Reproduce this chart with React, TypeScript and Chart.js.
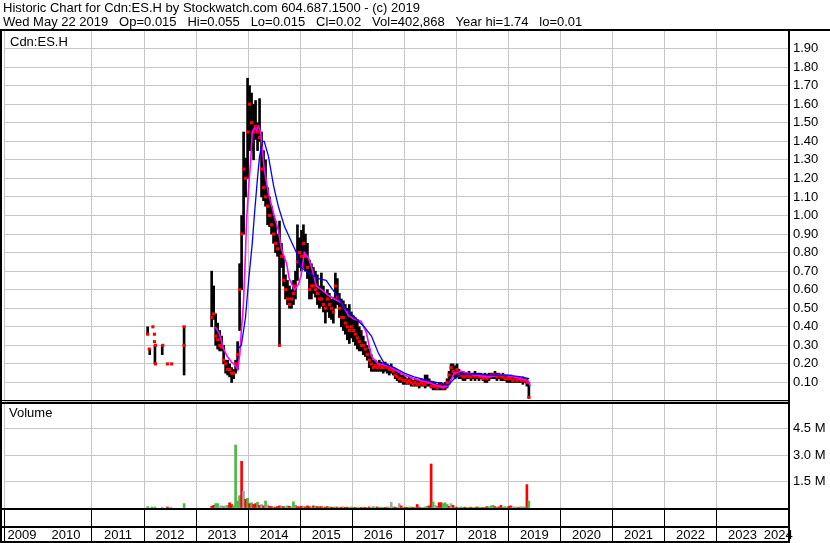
import React, { useEffect, useRef } from 'react';
import { Chart, registerables } from 'chart.js';

Chart.register(...registerables);

// ---------- text ----------
const TITLE_1 = 'Historic Chart for Cdn:ES.H by Stockwatch.com 604.687.1500 - (c) 2019';
const TITLE_2 = 'Wed May 22 2019   Op=0.015   Hi=0.055   Lo=0.015   Cl=0.02   Vol=402,868   Year hi=1.74   lo=0.01';
const SYMBOL = 'Cdn:ES.H';
const VOLUME_LABEL = 'Volume';
const yearLabels = ['2009', '2010', '2011', '2012', '2013', '2014', '2015', '2016', '2017', '2018', '2019', '2020', '2021', '2022', '2023', '2024'];

// ---------- early sporadic trades (2012) ----------
const earlyBarDates = [2012.07, 2012.11, 2012.21, 2012.35, 2012.77];
const earlyBarHigh = [0.40, 0.28, 0.30, 0.30, 0.40];
const earlyBarLow = [0.36, 0.25, 0.20, 0.25, 0.14];
const earlyMarkDates = [2012.07, 2012.17, 2012.20, 2012.20, 2012.10, 2012.22, 2012.22, 2012.36, 2012.45, 2012.53, 2012.77, 2012.77];
const earlyMarkValues = [0.36, 0.40, 0.36, 0.32, 0.28, 0.30, 0.20, 0.30, 0.20, 0.20, 0.40, 0.30];
const earlyVolDates = [2012.07, 2012.15, 2012.21, 2012.35, 2012.45, 2012.52, 2012.77];
const earlyVol = [0.08, 0.06, 0.06, 0.05, 0.06, 0.05, 0.25];
const earlyVolDir = ['u', 'u', 'u', 'n', 'd', 'n', 'u'];

// ---------- biweekly bars from May 2013 to May 2019 ----------
const BAR_START = 2013.30; // first biweekly period (decimal year)
const BAR_STEP_DAYS = 14;
const barHigh = [
  0.70, 0.62, 0.47, 0.42, 0.38, 0.35, 0.30, 0.22, 0.22, 0.20,
  0.18, 0.17, 0.22, 0.32, 0.74, 1.00, 1.45, 1.31, 1.74, 1.70,
  1.66, 1.60, 1.62, 1.50, 1.63, 1.45, 1.35, 1.30, 1.15, 1.10,
  1.05, 1.00, 0.97, 0.90, 0.97, 0.85, 0.78, 0.68, 0.65, 0.62,
  0.60, 0.65, 0.70, 0.95, 0.88, 0.92, 0.95, 0.90, 0.85, 0.76,
  0.74, 0.72, 0.70, 0.68, 0.62, 0.69, 0.62, 0.58, 0.60, 0.58,
  0.55, 0.56, 0.69, 0.66, 0.58, 0.55, 0.54, 0.52, 0.50, 0.52,
  0.48, 0.46, 0.45, 0.44, 0.40, 0.38, 0.35, 0.32, 0.30, 0.28,
  0.25, 0.22, 0.22, 0.21, 0.22, 0.21, 0.20, 0.21, 0.20, 0.19,
  0.20, 0.18, 0.17, 0.16, 0.15, 0.14, 0.14, 0.13, 0.12, 0.13,
  0.12, 0.11, 0.12, 0.11, 0.11, 0.12, 0.11, 0.14, 0.14, 0.12,
  0.10, 0.10, 0.10, 0.09, 0.10, 0.10, 0.09, 0.10, 0.12, 0.16,
  0.20, 0.20, 0.19, 0.20, 0.17, 0.16, 0.16, 0.15, 0.15, 0.16,
  0.15, 0.15, 0.16, 0.15, 0.15, 0.15, 0.14, 0.15, 0.14, 0.15,
  0.15, 0.15, 0.16, 0.15, 0.15, 0.14, 0.15, 0.14, 0.14, 0.13,
  0.14, 0.13, 0.13, 0.13, 0.13, 0.12, 0.13, 0.12, 0.12, 0.10,
];
const barLow = [
  0.40, 0.44, 0.30, 0.28, 0.27, 0.27, 0.20, 0.15, 0.14, 0.13,
  0.10, 0.12, 0.15, 0.17, 0.38, 0.60, 0.90, 1.10, 1.20, 1.35,
  1.35, 1.30, 1.41, 1.35, 1.40, 1.10, 1.08, 1.05, 0.95, 0.94,
  0.90, 0.85, 0.80, 0.78, 0.30, 0.72, 0.62, 0.55, 0.52, 0.50,
  0.50, 0.52, 0.55, 0.65, 0.72, 0.70, 0.72, 0.70, 0.66, 0.55,
  0.55, 0.58, 0.56, 0.52, 0.50, 0.51, 0.48, 0.42, 0.48, 0.45,
  0.44, 0.42, 0.50, 0.52, 0.45, 0.40, 0.38, 0.36, 0.33, 0.31,
  0.34, 0.32, 0.30, 0.28, 0.27, 0.27, 0.25, 0.24, 0.22, 0.18,
  0.16, 0.16, 0.16, 0.16, 0.16, 0.16, 0.15, 0.16, 0.15, 0.14,
  0.15, 0.14, 0.12, 0.11, 0.10, 0.10, 0.09, 0.09, 0.09, 0.09,
  0.08, 0.08, 0.08, 0.08, 0.07, 0.08, 0.08, 0.07, 0.08, 0.08,
  0.07, 0.06, 0.06, 0.06, 0.06, 0.06, 0.06, 0.06, 0.07, 0.09,
  0.12, 0.13, 0.12, 0.13, 0.12, 0.12, 0.11, 0.11, 0.12, 0.12,
  0.11, 0.12, 0.11, 0.12, 0.11, 0.12, 0.11, 0.10, 0.10, 0.11,
  0.12, 0.12, 0.12, 0.11, 0.12, 0.11, 0.11, 0.11, 0.10, 0.10,
  0.10, 0.10, 0.10, 0.10, 0.10, 0.10, 0.09, 0.10, 0.08, 0.015,
];
const barClose = [
  0.45, 0.47, 0.35, 0.33, 0.30, 0.29, 0.22, 0.20, 0.17, 0.17,
  0.15, 0.15, 0.20, 0.25, 0.60, 0.90, 1.25, 1.20, 1.45, 1.60,
  1.50, 1.45, 1.48, 1.45, 1.42, 1.25, 1.15, 1.10, 1.05, 1.00,
  0.95, 0.90, 0.85, 0.82, 0.30, 0.78, 0.65, 0.60, 0.55, 0.52,
  0.55, 0.58, 0.62, 0.75, 0.80, 0.78, 0.85, 0.78, 0.72, 0.60,
  0.62, 0.62, 0.60, 0.58, 0.55, 0.55, 0.52, 0.50, 0.55, 0.52,
  0.50, 0.48, 0.62, 0.56, 0.50, 0.45, 0.45, 0.42, 0.40, 0.38,
  0.40, 0.38, 0.36, 0.34, 0.32, 0.30, 0.30, 0.28, 0.25, 0.22,
  0.20, 0.18, 0.19, 0.18, 0.19, 0.18, 0.18, 0.19, 0.18, 0.17,
  0.17, 0.16, 0.14, 0.13, 0.12, 0.12, 0.11, 0.11, 0.10, 0.11,
  0.10, 0.09, 0.10, 0.09, 0.09, 0.10, 0.09, 0.09, 0.10, 0.10,
  0.08, 0.08, 0.08, 0.07, 0.08, 0.08, 0.07, 0.08, 0.10, 0.14,
  0.18, 0.16, 0.15, 0.17, 0.14, 0.14, 0.13, 0.13, 0.14, 0.13,
  0.13, 0.14, 0.13, 0.14, 0.13, 0.13, 0.12, 0.13, 0.12, 0.13,
  0.14, 0.14, 0.14, 0.13, 0.14, 0.13, 0.13, 0.12, 0.12, 0.12,
  0.12, 0.11, 0.12, 0.11, 0.12, 0.11, 0.11, 0.11, 0.10, 0.02,
];
// volume in millions of shares; u = up (green), d = down (red), n = unchanged (grey)
const volume = [
  0.10, 0.15, 0.25, 0.25, 0.12, 0.12, 0.10, 0.12, 0.15, 0.30,
  0.20, 0.12, 3.58, 0.40, 0.70, 2.65, 0.94, 0.50, 0.55, 0.25,
  0.30, 0.20, 0.25, 0.33, 0.15, 0.20, 0.12, 0.40, 0.18, 0.10,
  0.08, 0.06, 0.05, 0.08, 0.12, 0.10, 0.08, 0.06, 0.12, 0.10,
  0.06, 0.35, 0.15, 0.08, 0.06, 0.10, 0.08, 0.06, 0.12, 0.08,
  0.06, 0.12, 0.10, 0.08, 0.06, 0.08, 0.06, 0.05, 0.08, 0.06,
  0.05, 0.04, 0.06, 0.05, 0.04, 0.05, 0.06, 0.04, 0.05, 0.03,
  0.06, 0.05, 0.04, 0.03, 0.03, 0.04, 0.05, 0.04, 0.03, 0.06,
  0.04, 0.08, 0.06, 0.06, 0.04, 0.05, 0.03, 0.04, 0.06, 0.05,
  0.33, 0.06, 0.05, 0.04, 0.25, 0.12, 0.05, 0.04, 0.04, 0.05,
  0.06, 0.04, 0.05, 0.20, 0.05, 0.03, 0.04, 0.06, 0.10, 0.12,
  2.50, 0.35, 0.15, 0.10, 0.30, 0.30, 0.25, 0.30, 0.20, 0.10,
  0.25, 0.15, 0.06, 0.05, 0.04, 0.06, 0.04, 0.05, 0.03, 0.04,
  0.05, 0.03, 0.04, 0.06, 0.05, 0.04, 0.03, 0.05, 0.08, 0.06,
  0.12, 0.15, 0.08, 0.05, 0.06, 0.15, 0.05, 0.08, 0.05, 0.10,
  0.12, 0.06, 0.05, 0.06, 0.04, 0.08, 0.06, 0.05, 1.33, 0.40,
];
const volDir = [
  'd', 'd', 'u', 'u', 'n', 'n', 'u', 'n', 'u', 'd',
  'd', 'u', 'u', 'u', 'u', 'd', 'n', 'd', 'u', 'd',
  'u', 'd', 'd', 'u', 'd', 'n', 'd', 'u', 'n', 'd',
  'd', 'u', 'd', 'd', 'd', 'u', 'd', 'u', 'u', 'd',
  'u', 'u', 'u', 'd', 'd', 'd', 'u', 'd', 'd', 'd',
  'u', 'd', 'u', 'd', 'd', 'd', 'u', 'd', 'd', 'u',
  'd', 'd', 'u', 'd', 'u', 'd', 'u', 'd', 'd', 'u',
  'u', 'u', 'd', 'u', 'u', 'd', 'u', 'd', 'u', 'd',
  'n', 'u', 'n', 'd', 'u', 'u', 'u', 'd', 'u', 'n',
  'n', 'u', 'd', 'u', 'n', 'd', 'u', 'd', 'd', 'u',
  'u', 'd', 'u', 'd', 'd', 'u', 'n', 'u', 'u', 'd',
  'd', 'u', 'n', 'u', 'd', 'd', 'u', 'u', 'u', 'd',
  'n', 'd', 'u', 'd', 'n', 'u', 'u', 'd', 'u', 'u',
  'd', 'u', 'u', 'd', 'u', 'u', 'd', 'u', 'd', 'u',
  'u', 'u', 'd', 'u', 'd', 'd', 'u', 'u', 'n', 'd',
  'd', 'n', 'u', 'n', 'd', 'n', 'u', 'u', 'd', 'u',
];

// ---------- moving averages ----------
const maShortDates = [
  2013.37, 2013.45, 2013.53, 2013.60, 2013.68, 2013.76, 2013.80, 2013.84, 2013.87, 2013.91,
  2013.95, 2013.97, 2014.01, 2014.05, 2014.08, 2014.12, 2014.16, 2014.20, 2014.24, 2014.31,
  2014.39, 2014.51, 2014.58, 2014.64, 2014.74, 2014.79, 2014.89, 2014.97, 2015.02, 2015.08,
  2015.16, 2015.22, 2015.31, 2015.41, 2015.54, 2015.66, 2015.79, 2015.85, 2015.93, 2016.04,
  2016.17, 2016.27, 2016.37, 2016.50, 2016.69, 2016.81, 2017.00, 2017.19, 2017.46, 2017.71,
  2017.84, 2017.96, 2018.09, 2018.34, 2018.61, 2018.86, 2019.11, 2019.38, 2019.42,
];
const maShortValues = [
  0.40, 0.36, 0.28, 0.24, 0.21, 0.19, 0.17, 0.25, 0.38, 0.52,
  0.80, 0.97, 1.15, 1.30, 1.45, 1.47, 1.46, 1.48, 1.45, 1.25,
  1.12, 0.99, 0.92, 0.82, 0.74, 0.66, 0.60, 0.63, 0.68, 0.80,
  0.77, 0.72, 0.62, 0.60, 0.57, 0.55, 0.53, 0.50, 0.46, 0.44,
  0.43, 0.37, 0.24, 0.20, 0.19, 0.17, 0.14, 0.12, 0.10, 0.075,
  0.08, 0.15, 0.16, 0.14, 0.13, 0.14, 0.13, 0.11, 0.08,
];
const maLongDates = [
  2013.80, 2013.87, 2013.95, 2014.01, 2014.08, 2014.12, 2014.18, 2014.22, 2014.28, 2014.31,
  2014.39, 2014.49, 2014.58, 2014.70, 2014.83, 2014.93, 2014.97, 2015.02, 2015.22, 2015.35,
  2015.50, 2015.60, 2015.73, 2015.85, 2015.98, 2016.12, 2016.23, 2016.37, 2016.50, 2016.62,
  2016.81, 2017.00, 2017.19, 2017.46, 2017.71, 2017.84, 2017.96, 2018.09, 2018.48, 2018.72,
  2018.99, 2019.24, 2019.40,
];
const maLongValues = [
  0.28, 0.30, 0.45, 0.65, 0.85, 1.00, 1.20, 1.32, 1.40, 1.40,
  1.32, 1.16, 1.05, 0.94, 0.86, 0.80, 0.75, 0.72, 0.68, 0.66,
  0.65, 0.61, 0.56, 0.50, 0.47, 0.43, 0.40, 0.35, 0.26, 0.20,
  0.18, 0.15, 0.13, 0.11, 0.095, 0.085, 0.12, 0.145, 0.145, 0.14,
  0.14, 0.13, 0.12,
];

// ---------- styling ----------
const FONT_FAMILY = '"Liberation Sans", Arial, Helvetica, sans-serif';
const GRID = '#c6c6c6';
const DIR_COLOR: Record<string, string> = { u: '#4cb848', d: '#ff0000', n: '#a6a6a6' };
const X_MIN = 2009.31;
const X_MAX = 2024.373;

const framePlugin = {
  id: 'stockwatchFrame',
  beforeDraw(chart: any) {
    const { ctx, width, height } = chart;
    ctx.save();
    ctx.fillStyle = '#ffffff';
    ctx.fillRect(0, 0, width, height);
    ctx.restore();
  },
  afterDraw(chart: any) {
    const { ctx, chartArea, scales, width, height } = chart;
    const R = chartArea.right;
    const split = scales.y.bottom;
    ctx.save();
    ctx.fillStyle = '#000';
    ctx.font = `13px ${FONT_FAMILY}`;
    ctx.textBaseline = 'alphabetic';
    ctx.textAlign = 'left';
    ctx.fillText(TITLE_1, 3, 12);
    ctx.fillText(TITLE_2, 3, 26);

    // frame lines
    ctx.fillRect(0, 29, width, 2);
    ctx.fillRect(0, 29, 2, height - 29);
    ctx.fillRect(R, 29, 2, height - 29);
    ctx.fillRect(0, split - 1, R, 1);
    ctx.fillRect(0, split + 1, R, 2);
    ctx.fillRect(0, chartArea.bottom, R + 2, 2);
    ctx.fillRect(0, 526, R + 2, 2);
    ctx.fillRect(0, height - 2, R + 2, 2);

    // panel labels
    ctx.textBaseline = 'middle';
    ctx.fillText(SYMBOL, 10, 42);
    ctx.fillText(VOLUME_LABEL, 9, 413);

    // year labels centred in their (visible) year cells
    const xs = scales.x;
    ctx.textAlign = 'center';
    for (const lbl of yearLabels) {
      const yr = Number(lbl);
      const a = Math.max(xs.getPixelForValue(yr), chartArea.left);
      const b = Math.min(xs.getPixelForValue(yr + 1), chartArea.right);
      ctx.fillText(lbl, (a + b) / 2, 535);
    }
    ctx.restore();
  },
};

export default function App() {
  const canvasRef = useRef<HTMLCanvasElement | null>(null);

  useEffect(() => {
    const canvas = canvasRef.current;
    if (!canvas) return;
    Chart.defaults.font.family = FONT_FAMILY;
    Chart.defaults.font.size = 13;
    Chart.defaults.color = '#000';

    const step = BAR_STEP_DAYS / 365.25;
    const dates = barHigh.map((_, i) => BAR_START + i * step);

    const priceBars = [
      ...earlyBarDates.map((d, i) => ({ x: d, y: [earlyBarLow[i], earlyBarHigh[i]] })),
      ...dates.map((d, i) => ({ x: d, y: [barLow[i], barHigh[i]] })),
    ];
    const closeMarks = [
      ...earlyMarkDates.map((d, i) => ({ x: d, y: earlyMarkValues[i] })),
      ...dates.map((d, i) => ({ x: d, y: barClose[i] })),
    ];
    const volBars = [
      ...earlyVolDates.map((d, i) => ({ x: d, y: earlyVol[i] })),
      ...dates.map((d, i) => ({ x: d, y: volume[i] })),
    ];
    const volColors = [...earlyVolDir, ...volDir].map((c) => DIR_COLOR[c]);

    const chart = new Chart(canvas, {
      type: 'bar',
      data: {
        datasets: [
          {
            type: 'line',
            label: 'long average',
            data: maLongDates.map((d, i) => ({ x: d, y: maLongValues[i] })),
            borderColor: '#0000ff',
            borderWidth: 1.3,
            pointRadius: 0,
            tension: 0,
            xAxisID: 'x',
            yAxisID: 'y',
            order: 1,
          },
          {
            type: 'line',
            label: 'short average',
            data: maShortDates.map((d, i) => ({ x: d, y: maShortValues[i] })),
            borderColor: '#ff00ff',
            borderWidth: 1.6,
            pointRadius: 0,
            tension: 0,
            xAxisID: 'x',
            yAxisID: 'y',
            order: 2,
          },
          {
            type: 'line',
            label: 'close',
            data: closeMarks,
            showLine: false,
            pointStyle: 'rect',
            pointRadius: 2.2,
            pointBorderWidth: 0,
            pointBackgroundColor: '#ff0000',
            pointBorderColor: '#ff0000',
            xAxisID: 'x',
            yAxisID: 'y',
            order: 3,
          },
          {
            type: 'bar',
            label: 'range',
            data: priceBars as any,
            backgroundColor: '#000000',
            borderWidth: 0,
            grouped: false,
            barThickness: 2,
            maxBarThickness: 2,
            xAxisID: 'x',
            yAxisID: 'y',
            order: 4,
          },
          {
            type: 'bar',
            label: 'volume',
            data: volBars as any,
            backgroundColor: volColors,
            borderWidth: 0,
            grouped: false,
            barThickness: 2,
            maxBarThickness: 2,
            xAxisID: 'x',
            yAxisID: 'yv',
            order: 5,
          },
        ],
      } as any,
      options: {
        animation: false,
        responsive: false,
        maintainAspectRatio: false,
        events: [],
        layout: { padding: { top: 30, left: 2, right: 0, bottom: 0 } },
        plugins: {
          legend: { display: false },
          tooltip: { enabled: false },
          title: { display: false },
        },
        scales: {
          x: {
            type: 'linear',
            position: 'bottom',
            offset: false,
            min: X_MIN,
            max: X_MAX,
            ticks: { display: false, stepSize: 1, autoSkip: false },
            grid: { offset: false, color: GRID, tickColor: '#000', tickLength: 35, lineWidth: 1, tickWidth: 1 },
            border: { display: false },
            afterFit: (s: any) => {
              s.height = 35;
            },
          },
          y: {
            type: 'linear',
            position: 'right',
            stack: 'panels',
            stackWeight: 371,
            min: 0,
            max: 2,
            ticks: {
              stepSize: 0.1,
              autoSkip: false,
              padding: 5,
              color: '#000',
              font: { family: FONT_FAMILY, size: 13 },
              callback: (v: any) => {
                const n = Number(v);
                return n > 0.05 && n < 1.95 ? n.toFixed(2) : '';
              },
            },
            grid: { color: GRID, drawTicks: false },
            border: { display: false },
            afterFit: (s: any) => {
              s.width = 42;
            },
          },
          yv: {
            type: 'linear',
            position: 'right',
            stack: 'panels',
            stackWeight: 107,
            min: 0,
            max: 6.08,
            ticks: {
              stepSize: 1.5,
              autoSkip: false,
              padding: 5,
              color: '#000',
              font: { family: FONT_FAMILY, size: 13 },
              callback: (v: any) => {
                const n = Math.round(Number(v) * 10) / 10;
                return n === 1.5 || n === 3 || n === 4.5 ? n.toFixed(1) + ' M' : '';
              },
            },
            grid: { color: GRID, drawTicks: false },
            border: { display: false },
            afterFit: (s: any) => {
              s.width = 42;
            },
          },
        },
      } as any,
      plugins: [framePlugin],
    });

    return () => {
      chart.destroy();
    };
  }, []);

  return (
    <div style={{ position: 'absolute', left: 0, top: 0, width: 830, height: 543, background: '#fff' }}>
      <canvas ref={canvasRef} width={830} height={543} style={{ display: 'block', width: 830, height: 543 }} />
    </div>
  );
}
